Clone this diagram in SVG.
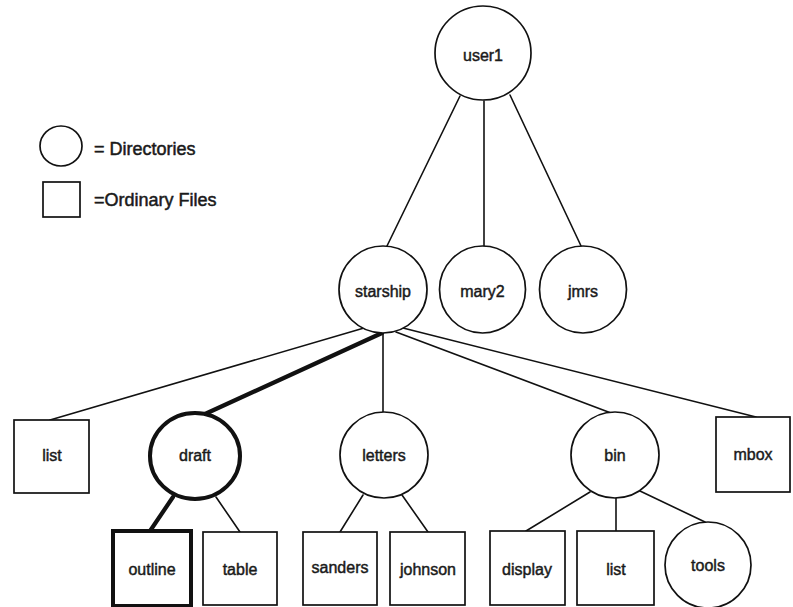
<svg xmlns="http://www.w3.org/2000/svg" width="793" height="607" viewBox="0 0 793 607">
  <style>
    .node { fill: #fff; stroke: #111; stroke-width: 1.7; }
    .bold { stroke-width: 4; }
    .edge { stroke: #111; stroke-width: 1.6; fill: none; stroke-linecap: round; }
    .path { stroke-width: 4.2; }
    text { font-family: "Liberation Sans", Arial, sans-serif; font-size: 16px; fill: #1a1a1a; stroke: #1a1a1a; stroke-width: 0.45; text-anchor: middle; }
    .legend { font-size: 18px; stroke-width: 0.5; text-anchor: start; }
  </style>
  <rect width="793" height="607" fill="#fff"/>

  <!-- legend -->
  <g id="legend">
    <ellipse class="node" cx="61" cy="146" rx="21" ry="20"/>
    <text class="legend" x="94" y="155">= Directories</text>
    <rect class="node" x="43" y="182" width="37" height="35"/>
    <text class="legend" x="94" y="206">=Ordinary Files</text>
  </g>

  <!-- connectors -->
  <g id="edges">
    <line class="edge" x1="460" y1="96" x2="386" y2="248"/>
    <line class="edge" x1="484" y1="101" x2="484" y2="247"/>
    <line class="edge" x1="510" y1="95" x2="582" y2="248"/>
    <line class="edge" x1="364" y1="328" x2="50" y2="420"/>
    <line class="edge path" x1="382" y1="333" x2="205" y2="414"/>
    <line class="edge" x1="383" y1="333" x2="383" y2="412"/>
    <line class="edge" x1="396" y1="332" x2="611" y2="413"/>
    <line class="edge" x1="403" y1="328" x2="756" y2="417"/>
    <line class="edge path" x1="173" y1="497" x2="150" y2="531"/>
    <line class="edge" x1="216" y1="497" x2="240" y2="532"/>
    <line class="edge" x1="363" y1="495" x2="340" y2="532"/>
    <line class="edge" x1="402" y1="495" x2="428" y2="532"/>
    <line class="edge" x1="590" y1="492" x2="526" y2="531"/>
    <line class="edge" x1="616" y1="497" x2="616" y2="531"/>
    <line class="edge" x1="640" y1="491" x2="705" y2="522"/>
  </g>

  <!-- directories -->
  <g id="user1"><ellipse class="node" cx="483" cy="53" rx="48" ry="47"/><text x="483" y="61">user1</text></g>
  <g id="starship"><ellipse class="node" cx="383" cy="289.5" rx="44" ry="43.5"/><text x="383" y="297">starship</text></g>
  <g id="mary2"><ellipse class="node" cx="482.5" cy="289.5" rx="43" ry="43.5"/><text x="482.5" y="297">mary2</text></g>
  <g id="jmrs"><ellipse class="node" cx="583" cy="289.5" rx="43.5" ry="43.5"/><text x="583" y="297">jmrs</text></g>
  <g id="draft"><ellipse class="node bold" cx="195" cy="456" rx="45" ry="43"/><text x="195" y="461">draft</text></g>
  <g id="letters"><ellipse class="node" cx="384" cy="455" rx="44" ry="43"/><text x="384" y="461">letters</text></g>
  <g id="bin"><ellipse class="node" cx="615" cy="455" rx="44" ry="43"/><text x="615" y="461">bin</text></g>
  <g id="tools"><ellipse class="node" cx="708" cy="565" rx="43" ry="43"/><text x="708" y="571">tools</text></g>

  <!-- ordinary files -->
  <g id="list"><rect class="node" x="14" y="420" width="75" height="73"/><text x="52" y="461">list</text></g>
  <g id="mbox"><rect class="node" x="716" y="417" width="74" height="75"/><text x="753" y="460">mbox</text></g>
  <g id="outline"><rect class="node bold" x="113" y="531" width="78" height="75"/><text x="152" y="575">outline</text></g>
  <g id="table"><rect class="node" x="203" y="532" width="74" height="73"/><text x="240" y="575">table</text></g>
  <g id="sanders"><rect class="node" x="303" y="532" width="74" height="73"/><text x="340" y="573">sanders</text></g>
  <g id="johnson"><rect class="node" x="390" y="532" width="75" height="73"/><text x="428" y="575">johnson</text></g>
  <g id="display"><rect class="node" x="490" y="531" width="75" height="74"/><text x="527" y="575">display</text></g>
  <g id="list2"><rect class="node" x="577" y="531" width="77" height="74"/><text x="616" y="575">list</text></g>
</svg>
